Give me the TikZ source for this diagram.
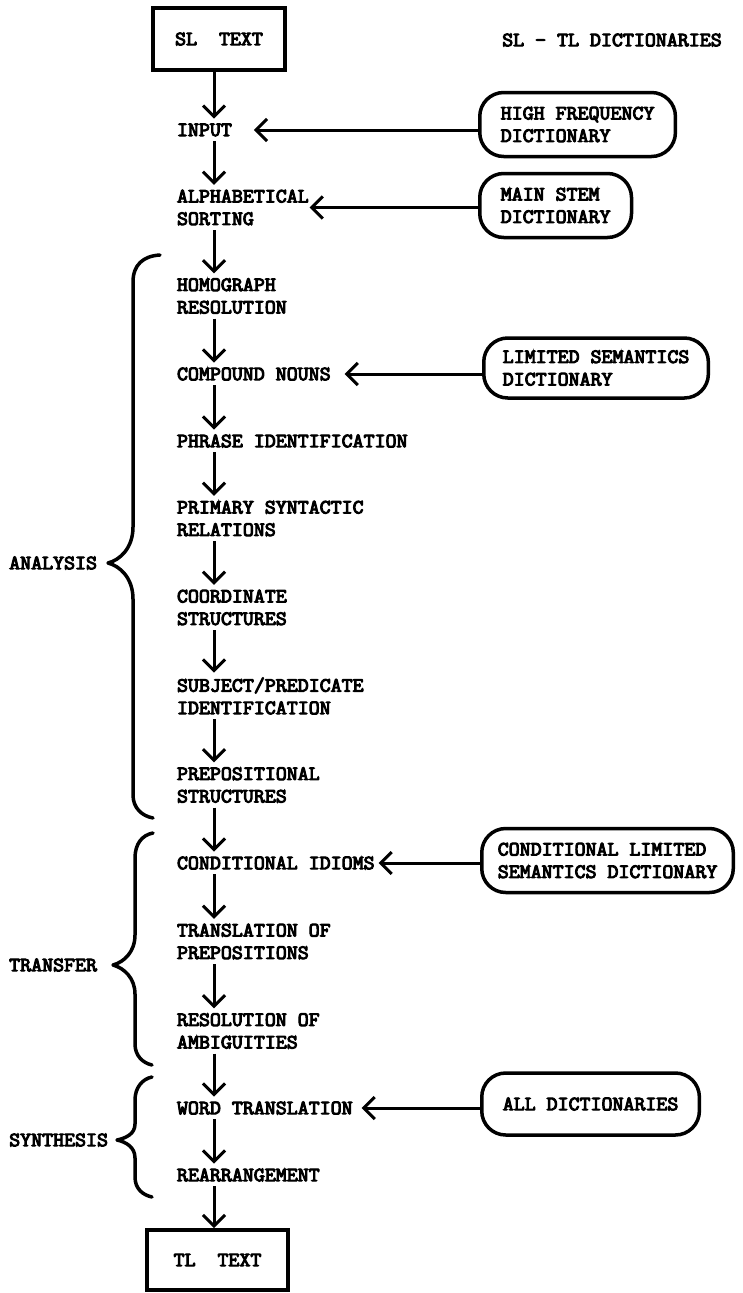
\documentclass[tikz,border=0pt]{standalone}
\usepackage{fontspec}
\newfontfamily\typew{Latin Modern Mono}[FakeBold=5,FakeStretch=1.05]
\usetikzlibrary{arrows.meta}
\begin{document}
\begin{tikzpicture}[x=1pt,y=-1pt,
  tt/.style={font=\typew\fontsize{20.3}{22.5}\selectfont},
  stage/.style={tt, anchor=west, inner sep=0pt, outer xsep=0pt, outer ysep=5pt, align=left},
  textbox/.style={tt, draw, line width=4pt, inner sep=0pt},
  dict/.style={tt, draw, line width=3.5pt, rounded corners=24pt, anchor=west, align=left, inner xsep=21pt, minimum height=64pt},
  arr/.style={line width=3pt, -{Straight Barb[length=11pt,width=22pt]}},
  bracestyle/.style={line width=3.5pt, line cap=round, line join=round},
  phase/.style={tt, anchor=west, inner sep=0pt}]
\fill[white] (0,0) rectangle (742,1293);
\useasboundingbox (0,0) rectangle (742,1293);
\coordinate (col) at (214,0);

% boxes
\node[textbox, minimum width=132pt, minimum height=62pt] (sl) at (219,39) {SL\ \ TEXT};
\node[textbox, minimum width=141pt, minimum height=60pt] (tl) at (217.5,1260) {TL\ \ TEXT};
\node[tt, anchor=west, inner sep=0pt] (title) at (502,40) {SL - TL DICTIONARIES};

% stages
\node[stage] (input) at (177,130) {INPUT};
\node[stage] (alph) at (177,207.5) {ALPHABETICAL\\SORTING};
\node[stage] (homo) at (177,296) {HOMOGRAPH\\RESOLUTION};
\node[stage] (comp) at (177,374) {COMPOUND NOUNS};
\node[stage] (phrase) at (177,441) {PHRASE IDENTIFICATION};
\node[stage] (prim) at (177,518.5) {PRIMARY SYNTACTIC\\RELATIONS};
\node[stage] (coord) at (177,607.5) {COORDINATE\\STRUCTURES};
\node[stage] (subj) at (177,696) {SUBJECT/PREDICATE\\IDENTIFICATION};
\node[stage] (prep) at (177,785) {PREPOSITIONAL\\STRUCTURES};
\node[stage] (cond) at (177,863) {CONDITIONAL IDIOMS};
\node[stage] (transl) at (177,941.5) {TRANSLATION OF\\PREPOSITIONS};
\node[stage] (resol) at (177,1031) {RESOLUTION OF\\AMBIGUITIES};
\node[stage] (word) at (177,1108) {WORD TRANSLATION};
\node[stage] (rear) at (177,1175) {REARRANGEMENT};

% dictionaries
\node[dict] (hf) at (478,124.5) {HIGH FREQUENCY\\DICTIONARY};
\node[dict] (ms) at (478,205.5) {MAIN STEM\\DICTIONARY};
\node[dict, minimum height=60pt, inner xsep=19pt] (ls) at (482,368) {LIMITED SEMANTICS\\DICTIONARY};
\node[dict, inner xsep=16pt] (cls) at (480,860.5) {CONDITIONAL LIMITED\\SEMANTICS DICTIONARY};
\node[dict, minimum height=62pt] (all) at (480,1104) {ALL DICTIONARIES};

% phase labels
\node[phase] (analysis) at (9,563) {ANALYSIS};
\node[phase] (transfer) at (9,965) {TRANSFER};
\node[phase] (synthesis) at (9,1140) {SYNTHESIS};

% vertical flow
\draw[arr] (sl.south -| col) -- (input.north -| col);
\draw[arr] (input.south -| col) -- (alph.north -| col);
\draw[arr] (alph.south -| col) -- (homo.north -| col);
\draw[arr] (homo.south -| col) -- (comp.north -| col);
\draw[arr] (comp.south -| col) -- (phrase.north -| col);
\draw[arr] (phrase.south -| col) -- (prim.north -| col);
\draw[arr] (prim.south -| col) -- (coord.north -| col);
\draw[arr] (coord.south -| col) -- (subj.north -| col);
\draw[arr] (subj.south -| col) -- (prep.north -| col);
\draw[arr] (prep.south -| col) -- (cond.north -| col);
\draw[arr] (cond.south -| col) -- (transl.north -| col);
\draw[arr] (transl.south -| col) -- (resol.north -| col);
\draw[arr] (resol.south -| col) -- (word.north -| col);
\draw[arr] (word.south -| col) -- (rear.north -| col);
\draw[arr] (rear.south -| col) -- (tl.north -| col);

% dictionary arrows
\draw[arr, shorten >=22pt] (hf.west |- input.east) -- (input.east);
\draw[arr, shorten >=1pt] (ms.west |- alph.east) -- (alph.east);
\draw[arr, shorten >=14pt] (ls.west |- comp.east) -- (comp.east);
\draw[arr, shorten >=4pt] (cls.west |- cond.east) -- (cond.east);
\draw[arr, shorten >=9pt] (all.west |- word.east) -- (word.east);

% braces
\draw[bracestyle] (160,255) .. controls (143,256) and (133,265) .. (133,282)
  -- (133,527) .. controls (133,548) and (120,560) .. (108,563)
  .. controls (120,566) and (133,578) .. (133,599)
  -- (133,795) .. controls (133,808) and (142,816) .. (153,818);
\draw[bracestyle] (153,833) .. controls (142,835) and (135,844) .. (135,858)
  -- (135,935) .. controls (135,952) and (124,962) .. (113,965)
  .. controls (124,968) and (135,978) .. (135,994)
  -- (135,1044) .. controls (135,1056) and (143,1063) .. (152,1065);
\draw[bracestyle] (152,1077) .. controls (142,1079) and (135,1088) .. (135,1100)
  -- (135,1124) .. controls (135,1134) and (126,1138) .. (117,1140)
  .. controls (126,1142) and (135,1147) .. (135,1158)
  -- (135,1177) .. controls (135,1189) and (143,1195) .. (152,1197);
\end{tikzpicture}
\end{document}
